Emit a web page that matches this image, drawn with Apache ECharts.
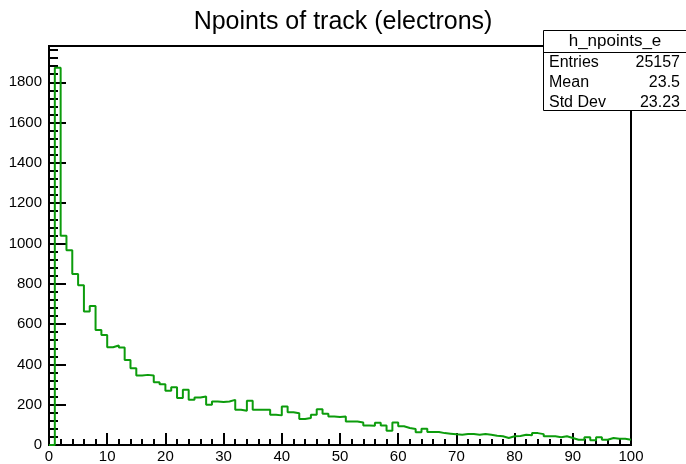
<!DOCTYPE html>
<html>
<head>
<meta charset="utf-8">
<script src="https://cdn.jsdelivr.net/npm/echarts@6/dist/echarts.min.js"></script>
<style>
  html, body { margin: 0; padding: 0; background: #fff; }
  #chart { width: 686px; height: 464px; }
</style>
</head>
<body>
<div id="chart"></div>
<script>
// Number of track points per electron track, 1-wide bins from 0 to 100
const binLowEdges = Array.from({ length: 100 }, (_, i) => i);
const binCounts = [
  0, 1872, 1038, 967, 848, 793, 662, 690, 571, 546,
  485, 494, 484, 422, 381, 345, 348, 345, 312, 302,
  269, 286, 233, 274, 224, 236, 241, 200, 216, 213,
  216, 224, 175, 170, 219, 175, 175, 175, 150, 147,
  191, 163, 158, 129, 134, 150, 178, 155, 142, 139,
  142, 117, 117, 112, 97, 96, 110, 97, 71, 112,
  93, 84, 79, 63, 81, 64, 64, 59, 56, 53,
  51, 54, 54, 51, 54, 51, 46, 43, 35, 43,
  45, 51, 48, 59, 54, 43, 43, 38, 43, 35,
  26, 26, 38, 23, 38, 26, 35, 31, 31, 26
];
const xRange = [0, 100];
const yRange = [0, 1980];

// Statistics box contents
const histName = 'h_npoints_e';
const statLabels = ['Entries', 'Mean', 'Std Dev'];
const statValues = ['25157', '23.5', '23.23'];

const FONT = 'Liberation Sans, Arial, Helvetica, sans-serif';

// Step outline: each point is a bin's low edge; a closing point at the upper edge
const stepData = binLowEdges.map((x, i) => [x, binCounts[i]]);
stepData.push([xRange[1], binCounts[binCounts.length - 1]]);

const chart = echarts.init(document.getElementById('chart'), null, { renderer: 'canvas' });

const boxX = 543.5, boxY = 30.5, boxW = 150, boxH = 80, headH = 22, rowH = 20;
const statGraphics = [
  { type: 'rect', shape: { x: boxX, y: boxY, width: boxW, height: boxH },
    style: { fill: '#fff', stroke: '#000', lineWidth: 1 }, z: 100 },
  { type: 'line', shape: { x1: boxX, y1: boxY + headH, x2: boxX + boxW, y2: boxY + headH },
    style: { stroke: '#000', lineWidth: 1 }, z: 101 },
  { type: 'text', x: 615, y: boxY + headH / 2,
    style: { text: histName, font: '17px ' + FONT, fill: '#000', align: 'center', verticalAlign: 'middle' }, z: 101 }
];
statLabels.forEach((lab, i) => {
  const cy = boxY + headH + rowH / 2 + i * rowH;
  statGraphics.push({ type: 'text', x: 549, y: cy,
    style: { text: lab, font: '16px ' + FONT, fill: '#000', align: 'left', verticalAlign: 'middle' }, z: 101 });
  statGraphics.push({ type: 'text', x: 680, y: cy,
    style: { text: statValues[i], font: '16px ' + FONT, fill: '#000', align: 'right', verticalAlign: 'middle' }, z: 101 });
});

chart.setOption({
  animation: false,
  backgroundColor: '#fff',
  title: {
    text: 'Npoints of track (electrons)',
    left: 'center',
    top: 5,
    textStyle: { fontFamily: FONT, fontSize: 25, fontWeight: 'normal', color: '#000' }
  },
  grid: {
    left: 49, right: 55, top: 46, bottom: 17,
    show: true, borderColor: '#000', borderWidth: 2, backgroundColor: 'transparent'
  },
  xAxis: {
    type: 'value',
    min: xRange[0], max: xRange[1], interval: 10,
    axisLine: { show: true, lineStyle: { color: '#000', width: 2 } },
    axisTick: { show: true, inside: true, length: 12, lineStyle: { color: '#000', width: 2 } },
    minorTick: { show: true, splitNumber: 5, length: 6, lineStyle: { color: '#000', width: 2 } },
    splitLine: { show: false },
    axisLabel: { color: '#000', fontFamily: FONT, fontSize: 15, margin: 4 }
  },
  yAxis: {
    type: 'value',
    min: yRange[0], max: yRange[1], interval: 200,
    axisLine: { show: true, lineStyle: { color: '#000', width: 2 } },
    axisTick: { show: true, inside: true, length: 17, lineStyle: { color: '#000', width: 2 } },
    minorTick: { show: true, splitNumber: 5, length: 9, lineStyle: { color: '#000', width: 2 } },
    splitLine: { show: false },
    axisLabel: {
      color: '#000', fontFamily: FONT, fontSize: 15, margin: 7, showMaxLabel: false,
      formatter: (v) => String(v)
    }
  },
  series: [{
    type: 'line',
    step: 'end',
    data: stepData,
    symbol: 'none',
    lineStyle: { color: '#0c9c0c', width: 2 },
    z: 5
  }],
  graphic: statGraphics
});
</script>
</body>
</html>
